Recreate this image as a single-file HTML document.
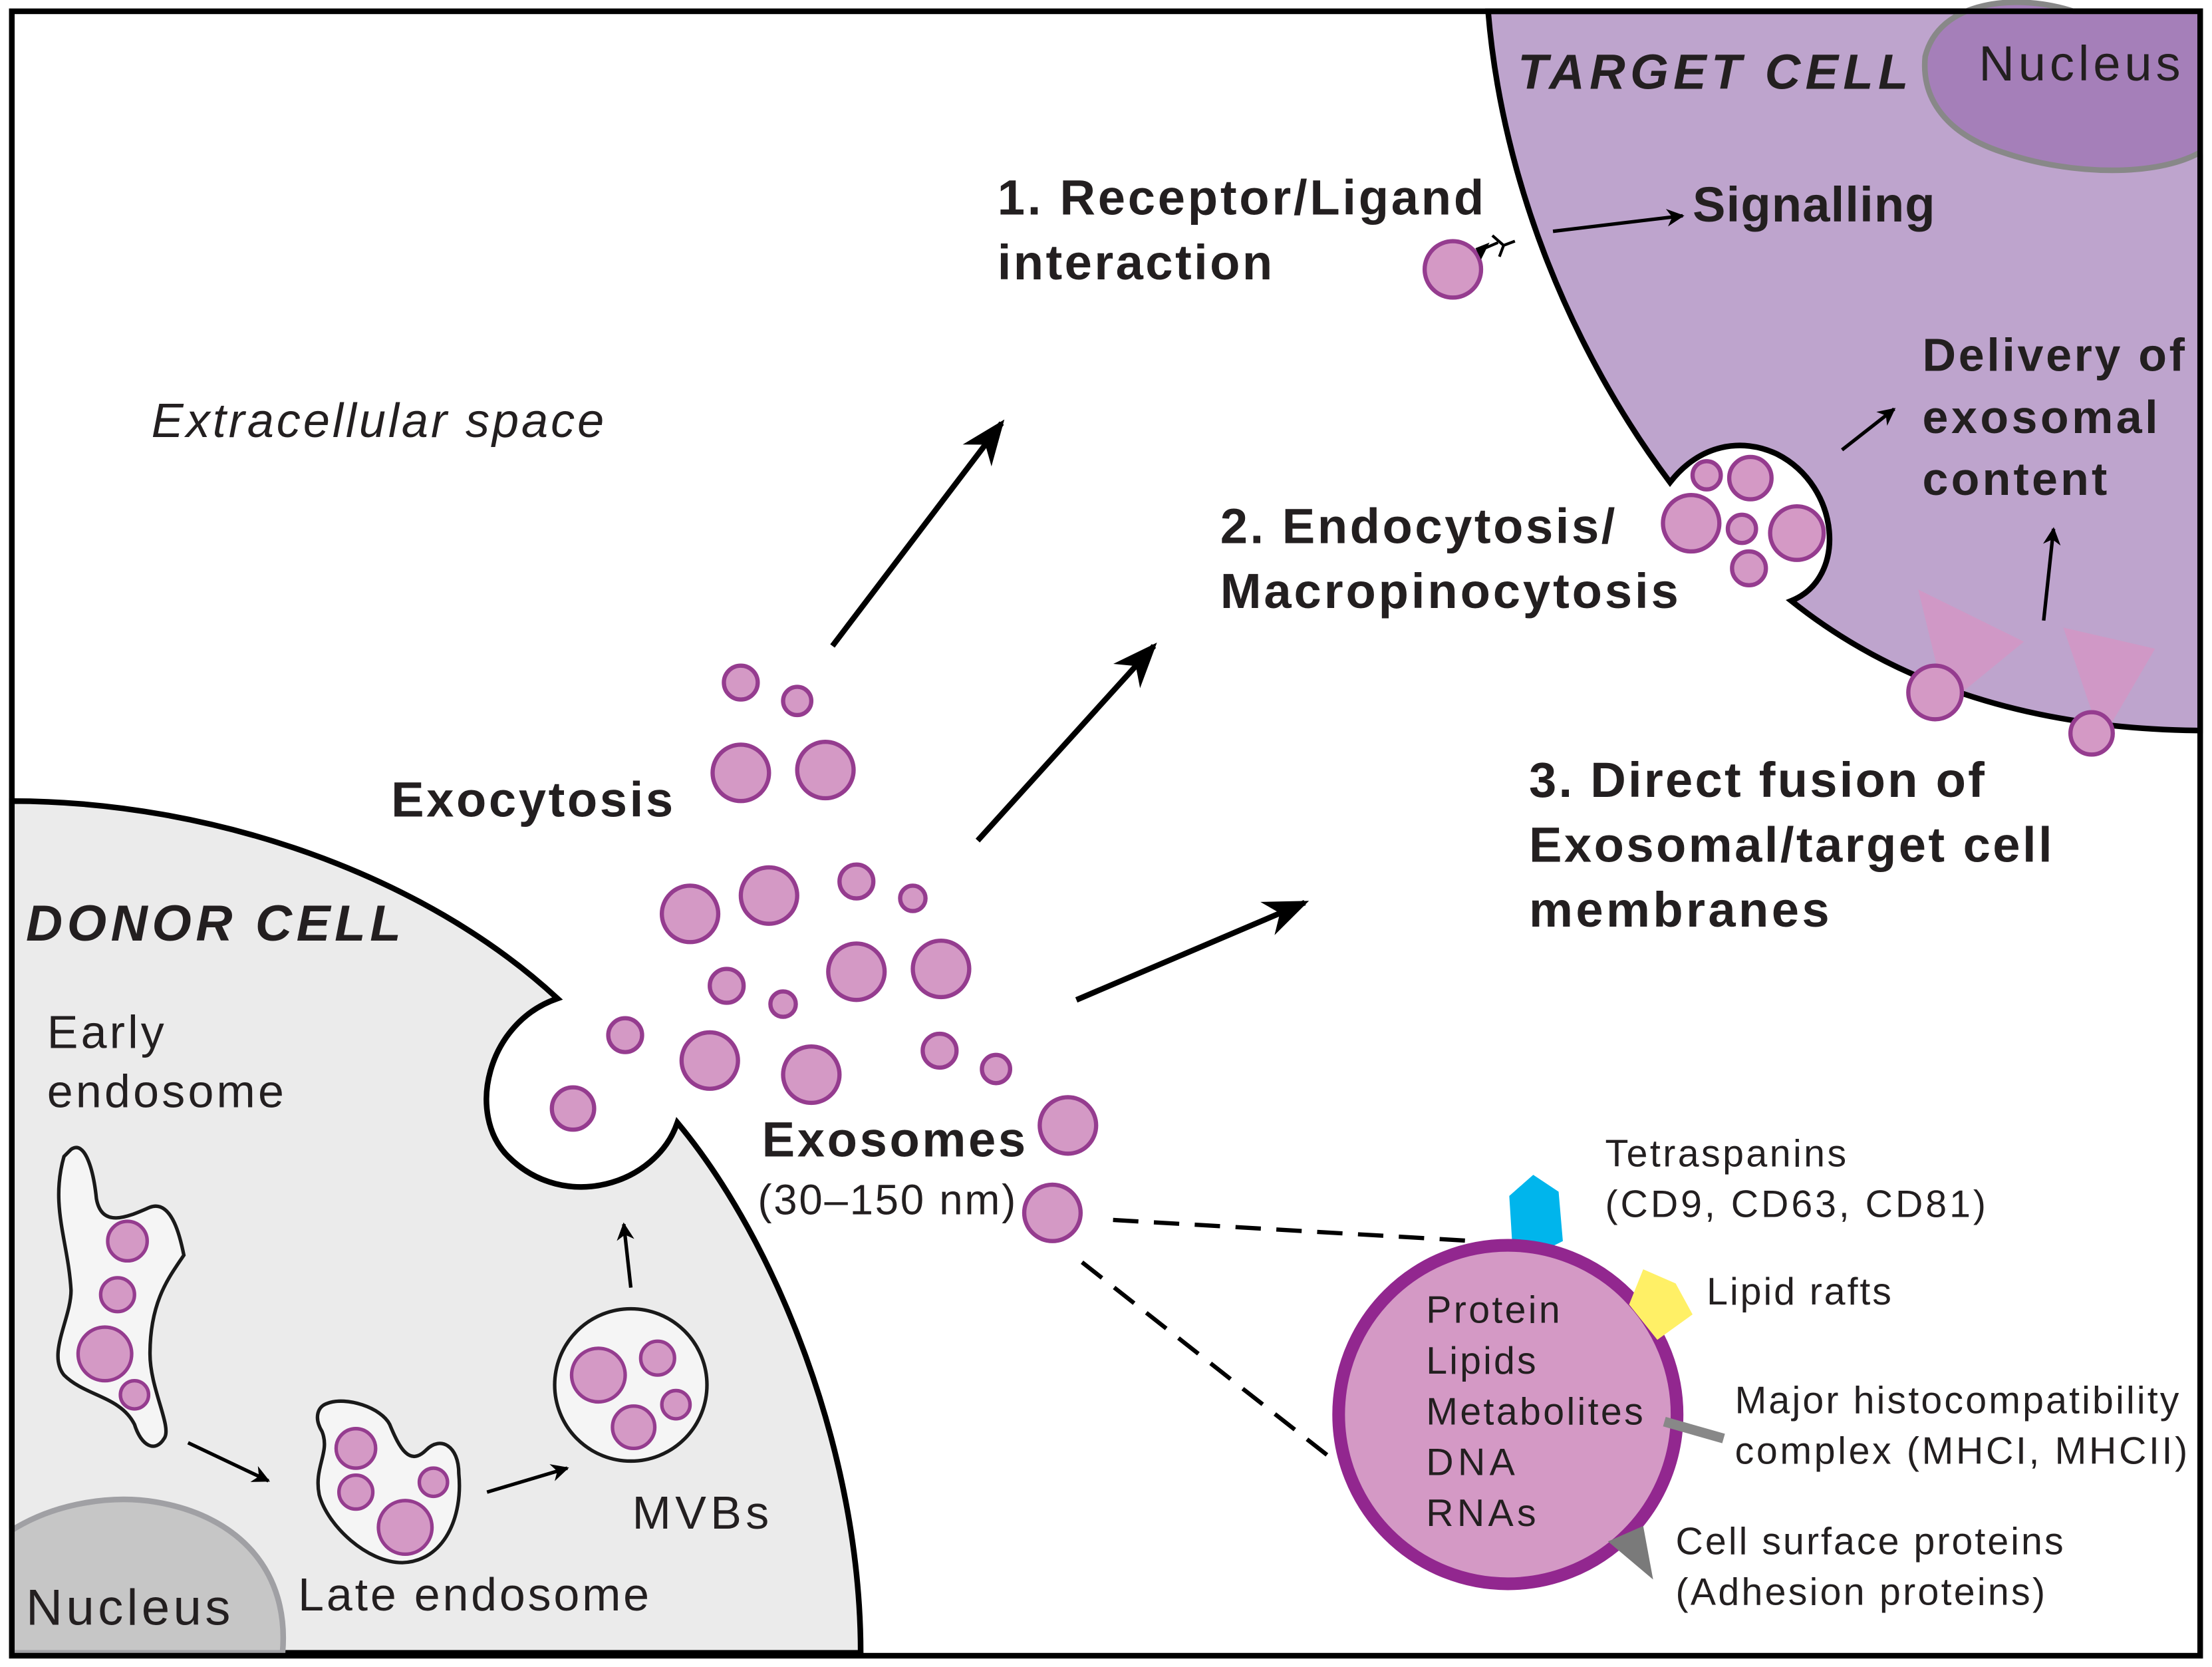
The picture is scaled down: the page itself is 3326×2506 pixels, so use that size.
<!DOCTYPE html>
<html><head><meta charset="utf-8"><style>
html,body{margin:0;padding:0;background:#fff;}
svg{display:block;}
text{font-family:"Liberation Sans",Arial,sans-serif;fill:#231f20;}
.b{font-weight:bold;}
</style></head><body>
<svg width="3326" height="2506" viewBox="0 0 1568 1182" xmlns="http://www.w3.org/2000/svg">
<defs>
<marker id="ah" viewBox="0 0 10 10" refX="9" refY="5" markerWidth="5" markerHeight="5" orient="auto"><path d="M0,0 L10,5 L0,10 L3,5 Z" fill="#000"/></marker>
<marker id="as" viewBox="0 0 10 10" refX="9" refY="5" markerWidth="8" markerHeight="8" orient="auto"><path d="M0,1 L10,5 L0,9 L3,5 Z" fill="#000"/></marker>
</defs>
<rect x="0" y="0" width="1568" height="1182" fill="#fff"/>
<path d="M8,568 C150,568 300,620 395,708 C345,725 330,790 360,820 C400,860 465,840 480,796 C550,880 610,1030 610,1172 L8,1172 Z" fill="#ebebeb" stroke="#000" stroke-width="4"/>
<path d="M8,1085 C40,1065 80,1060 110,1065 C170,1075 205,1115 200,1172 L8,1172 Z" fill="#c6c6c6" stroke="#a0a0a4" stroke-width="4"/>
<path d="M1055,8 C1065,130 1115,250 1184,342 C1205,315 1235,310 1260,322 C1305,345 1310,410 1270,426 C1350,490 1450,517 1560,518 L1560,8 Z" fill="#bea4cd" stroke="#000" stroke-width="4"/>
<path d="M1365,40 C1375,0 1430,-5 1470,8 L1560,8 L1560,108 C1530,125 1470,125 1420,108 C1380,95 1362,70 1365,40 Z" fill="#a57fb9" stroke="#888" stroke-width="4"/>
<rect x="8" y="8" width="1552" height="1166" fill="none" stroke="#000" stroke-width="4"/>
<polygon points="1360,418 1435,455 1380,500" fill="#d497c4" opacity="0.85"/>
<polygon points="1463,445 1528,460 1490,525" fill="#d497c4" opacity="0.85"/>
<g fill="#d499c5" stroke="#953c8f" stroke-width="3">
<circle cx="1372" cy="491" r="19"/><circle cx="1483" cy="520" r="15"/>
<circle cx="1030" cy="191" r="20"/>
<circle cx="1210" cy="337" r="10"/><circle cx="1241" cy="339" r="15"/><circle cx="1199" cy="371" r="20"/><circle cx="1235" cy="375" r="10"/><circle cx="1274" cy="378" r="19"/><circle cx="1240" cy="403" r="12"/>
<circle cx="525" cy="484" r="12"/><circle cx="565" cy="497" r="10"/><circle cx="525" cy="548" r="20"/><circle cx="585" cy="546" r="20"/>
<circle cx="489" cy="648" r="20"/><circle cx="545" cy="635" r="20"/><circle cx="607" cy="625" r="12"/><circle cx="647" cy="637" r="9"/>
<circle cx="515" cy="699" r="12"/><circle cx="555" cy="712" r="9"/><circle cx="607" cy="689" r="20"/><circle cx="667" cy="687" r="20"/>
<circle cx="443" cy="734" r="12"/><circle cx="503" cy="752" r="20"/><circle cx="575" cy="762" r="20"/><circle cx="666" cy="745" r="12"/><circle cx="706" cy="758" r="10"/>
<circle cx="406" cy="786" r="15"/><circle cx="757" cy="798" r="20"/><circle cx="746" cy="860" r="20"/>
</g>
<path d="M1048,178 L1062,172 M1058,167 L1066,174 L1063,182 M1066,174 L1074,171" stroke="#000" stroke-width="2" fill="none"/>
<path d="M1046,176 L1056,172 L1050,184 Z" fill="#000"/>
<path d="M50,815 C60,808 66,830 68,850 C72,872 92,862 106,856 C122,850 128,880 130,890 C120,905 106,922 106,960 C106,985 122,1012 116,1020 C110,1030 100,1026 95,1010 C85,990 60,990 45,975 C33,960 50,935 50,915 C48,880 35,855 45,820 Z" fill="#f5f5f5" stroke="#1a1a1a" stroke-width="2.5"/>
<path d="M232,995 C245,990 270,998 276,1010 C283,1027 290,1040 302,1028 C312,1018 325,1025 325,1045 C328,1075 315,1107 285,1108 C260,1108 232,1082 226,1060 C222,1040 234,1030 228,1015 C222,1005 225,997 232,995 Z" fill="#f5f5f5" stroke="#1a1a1a" stroke-width="2.5"/>
<circle cx="447" cy="982" r="54" fill="#f5f5f5" stroke="#1a1a1a" stroke-width="2.5"/>
<g fill="#d499c5" stroke="#953c8f" stroke-width="2.5">
<circle cx="90" cy="880" r="14"/><circle cx="83" cy="918" r="12"/><circle cx="74" cy="960" r="19"/><circle cx="95" cy="989" r="10"/>
<circle cx="252" cy="1027" r="14"/><circle cx="252" cy="1058" r="12"/><circle cx="287" cy="1083" r="19"/><circle cx="307" cy="1051" r="10"/>
<circle cx="424" cy="975" r="19"/><circle cx="466" cy="963" r="12"/><circle cx="479" cy="996" r="10"/><circle cx="449" cy="1012" r="15"/>
</g>
<g stroke="#000" stroke-width="2.5" fill="none" marker-end="url(#ah)">
<line x1="133" y1="1023" x2="190" y2="1050"/>
<line x1="345" y1="1058" x2="402" y2="1041"/>
<line x1="447" y1="913" x2="442" y2="868"/>
<line x1="1101" y1="164" x2="1193" y2="153"/>
<line x1="1306" y1="319" x2="1343" y2="290"/>
<line x1="1449" y1="440" x2="1456" y2="375"/>
</g>
<g stroke="#000" stroke-width="4" fill="none" marker-end="url(#as)">
<line x1="590" y1="458" x2="710" y2="300"/>
<line x1="693" y1="596" x2="818" y2="458"/>
<line x1="763" y1="709" x2="925" y2="640"/>
</g>
<line x1="789" y1="865" x2="1045" y2="880" stroke="#000" stroke-width="3" stroke-dasharray="18,11"/>
<line x1="767" y1="895" x2="945" y2="1035" stroke="#000" stroke-width="3" stroke-dasharray="18,11"/>
<polygon points="1087,833 1105,845 1108,880 1088,890 1072,880 1070,848" fill="#00b5ec"/>
<circle cx="1069" cy="1003" r="120" fill="#d499c5" stroke="#92278f" stroke-width="9"/>
<polygon points="1165,900 1188,910 1200,932 1175,950 1155,925" fill="#fff066"/>
<line x1="1180" y1="1008" x2="1222" y2="1020" stroke="#888" stroke-width="7"/>
<polygon points="1140,1093 1165,1082 1172,1120" fill="#7a7a7a"/>
<text x="707" y="152" class="b" font-size="35" textLength="345">1. Receptor/Ligand</text>
<text x="707" y="198" class="b" font-size="35" textLength="195">interaction</text>
<text x="1200" y="157" class="b" font-size="35" textLength="172">Signalling</text>
<text x="1076" y="63" class="b" font-size="35" font-style="italic" textLength="277">TARGET CELL</text>
<text x="1403" y="57" font-size="35" textLength="143">Nucleus</text>
<text x="1363" y="263" class="b" font-size="33" textLength="186">Delivery of</text>
<text x="1363" y="307" class="b" font-size="33" textLength="167">exosomal</text>
<text x="1363" y="351" class="b" font-size="33" textLength="131">content</text>
<text x="107" y="310" font-size="34" font-style="italic" textLength="321">Extracellular space</text>
<text x="865" y="385" class="b" font-size="35" textLength="280">2. Endocytosis/</text>
<text x="865" y="431" class="b" font-size="35" textLength="325">Macropinocytosis</text>
<text x="1084" y="565" class="b" font-size="35" textLength="323">3. Direct fusion of</text>
<text x="1084" y="611" class="b" font-size="35" textLength="371">Exosomal/target cell</text>
<text x="1084" y="657" class="b" font-size="35" textLength="213">membranes</text>
<text x="277" y="579" class="b" font-size="35" textLength="200">Exocytosis</text>
<text x="18" y="667" class="b" font-size="36" font-style="italic" textLength="266">DONOR CELL</text>
<text x="33" y="743" font-size="33" textLength="83">Early</text>
<text x="33" y="785" font-size="33" textLength="168">endosome</text>
<text x="540" y="820" class="b" font-size="35" textLength="187">Exosomes</text>
<text x="537" y="861" font-size="30" textLength="183">(30–150 nm)</text>
<text x="448" y="1084" font-size="33" textLength="97">MVBs</text>
<text x="211" y="1142" font-size="33" textLength="249">Late endosome</text>
<text x="18" y="1152" font-size="36" textLength="145">Nucleus</text>
<text x="1138" y="827" font-size="27" textLength="171">Tetraspanins</text>
<text x="1138" y="863" font-size="27" textLength="270">(CD9, CD63, CD81)</text>
<text x="1210" y="925" font-size="27" textLength="131">Lipid rafts</text>
<text x="1230" y="1002" font-size="27" textLength="315">Major histocompatibility</text>
<text x="1230" y="1038" font-size="27" textLength="321">complex (MHCI, MHCII)</text>
<text x="1188" y="1102" font-size="27" textLength="275">Cell surface proteins</text>
<text x="1188" y="1138" font-size="27" textLength="262">(Adhesion proteins)</text>
<text x="1011" y="938" font-size="27" textLength="95">Protein</text>
<text x="1011" y="974" font-size="27" textLength="78">Lipids</text>
<text x="1011" y="1010" font-size="27" textLength="154">Metabolites</text>
<text x="1011" y="1046" font-size="27" textLength="63">DNA</text>
<text x="1011" y="1082" font-size="27" textLength="78">RNAs</text>
</svg>
</body></html>
